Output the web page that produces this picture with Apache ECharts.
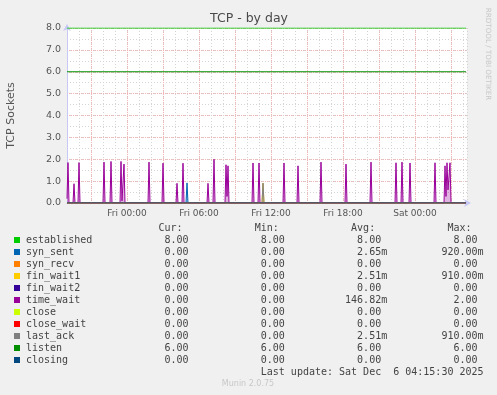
<!DOCTYPE html>
<html>
<head>
<meta charset="utf-8">
<script src="https://cdn.jsdelivr.net/npm/echarts@6/dist/echarts.min.js"></script>
<style>
html,body{margin:0;padding:0;background:#f0f0f0;}
#chart{width:497px;height:395px;}
</style>
</head>
<body>
<div id="chart"></div>
<script>
// ---- data (x = minutes relative to Fri 00:00) ----
const seriesNames = ['established','syn_sent','syn_recv','fin_wait1','fin_wait2','time_wait','close','close_wait','last_ack','listen','closing'];
const seriesColors = ['#00CC00','#0066B3','#FF8000','#FFCC00','#330099','#990099','#CCFF00','#FF0000','#808080','#008F00','#00487D'];

const xTickValues = [0, 360, 720, 1080, 1440];
const xTickLabels = ['Fri 00:00', 'Fri 06:00', 'Fri 12:00', 'Fri 18:00', 'Sat 00:00'];

const establishedData = [[-300, 8], [1695, 8]];
const listenData = [[-300, 6], [1695, 6]];
const synRecvData = [[-300, 0], [1695, 0]];
const finWait2Data = [[-300, 0], [1695, 0]];
const closeData = [[-300, 0], [1695, 0]];
const closeWaitData = [[-300, 0], [1695, 0]];
const closingData = [[-300, 0], [1695, 0]];
const synSentData = [[-300, 0], [295, 0], [300, 0.92], [305, 0], [1695, 0]];
const finWait1Data = [[-300, 0], [675, 0], [680, 0.91], [685, 0], [1695, 0]];
const lastAckData = [[-300, 0], [675, 0], [680, 0.91], [685, 0], [1695, 0]];
const timeWaitData = [
  [-300, 0.2], [-295, 1.85], [-290, 0],
  [-270, 0], [-265, 0.88], [-260, 0],
  [-245, 0], [-240, 1.85], [-235, 0],
  [-120, 0], [-115, 1.87], [-110, 0],
  [-85, 0], [-80, 1.9], [-75, 0],
  [-35, 0], [-30, 1.9], [-25, 0.1], [-20, 0.1], [-15, 1.78], [-10, 0],
  [105, 0], [110, 1.87], [115, 0],
  [175, 0], [180, 1.82], [185, 0],
  [245, 0], [250, 0.9], [255, 0],
  [275, 0], [280, 1.82], [285, 0],
  [400, 0], [405, 0.9], [410, 0],
  [430, 0], [435, 2.0], [440, 0],
  [490, 0], [495, 1.75], [500, 0.3], [505, 1.7], [510, 0],
  [625, 0], [630, 1.83], [635, 0],
  [655, 0], [660, 1.83], [665, 0],
  [780, 0], [785, 1.83], [790, 0],
  [850, 0], [855, 1.7], [860, 0],
  [965, 0], [970, 1.87], [975, 0],
  [1090, 0], [1095, 1.78], [1100, 0],
  [1215, 0], [1220, 1.87], [1225, 0],
  [1340, 0], [1345, 1.84], [1350, 0],
  [1370, 0], [1375, 1.87], [1380, 0],
  [1410, 0], [1415, 1.83], [1420, 0],
  [1535, 0], [1540, 1.84], [1545, 0],
  [1585, 0], [1590, 1.7], [1595, 0.3], [1600, 1.84], [1605, 0.6], [1610, 0.6], [1615, 1.84], [1620, 0],
  [1695, 0]
];

const curVals = ['8.00','0.00','0.00','0.00','0.00','0.00','0.00','0.00','0.00','6.00','0.00'];
const minVals = ['8.00','0.00','0.00','0.00','0.00','0.00','0.00','0.00','0.00','6.00','0.00'];
const avgVals = ['8.00','2.65m','0.00','2.51m','0.00','146.82m','0.00','0.00','2.51m','6.00','0.00'];
const maxVals = ['8.00','920.00m','0.00','910.00m','0.00','2.00','0.00','0.00','910.00m','6.00','0.00'];
const lastUpdate = 'Last update: Sat Dec  6 04:15:30 2025';

// ---- build ----
const seriesData = [establishedData, synSentData, synRecvData, finWait1Data, finWait2Data, timeWaitData,
  closeData, closeWaitData, lastAckData, listenData, closingData];
const areaSeries = {syn_sent: true, fin_wait1: true, time_wait: true, last_ack: true};

const series = seriesNames.map((n, i) => ({
  name: n,
  type: 'line',
  xAxisIndex: 0,
  yAxisIndex: 0,
  data: seriesData[i],
  showSymbol: false,
  silent: true,
  animation: false,
  lineStyle: {color: seriesColors[i], width: 1},
  itemStyle: {color: seriesColors[i]},
  areaStyle: areaSeries[n] ? {color: seriesColors[i], opacity: 0.3} : undefined
}));

const mono = '10px "DejaVu Sans Mono"';
const txtCol = '#444';
const CW = 6.02;
const colEnds = [26 + 28 * CW, 26 + 44 * CW, 26 + 60 * CW, 26 + 76 * CW];
const headers = ['Cur:', 'Min:', 'Avg:', 'Max:'];
const cols = [curVals, minVals, avgVals, maxVals];

const graphics = [];
headers.forEach((h, c) => {
  graphics.push({type: 'text', x: colEnds[c] - 2 * CW, y: 228,
    style: {text: h, font: mono, fill: txtCol, align: 'right', verticalAlign: 'middle'}});
});
seriesNames.forEach((n, i) => {
  const y = 240 + i * 12;
  graphics.push({type: 'rect', shape: {x: 14, y: y - 3, width: 6, height: 6}, style: {fill: seriesColors[i]}});
  graphics.push({type: 'text', x: 26, y: y,
    style: {text: n, font: mono, fill: txtCol, align: 'left', verticalAlign: 'middle'}});
  cols.forEach((arr, c) => {
    const s = arr[i];
    const r = colEnds[c] - (s.endsWith('m') ? 0 : CW);
    graphics.push({type: 'text', x: r, y: y,
      style: {text: s, font: mono, fill: txtCol, align: 'right', verticalAlign: 'middle'}});
  });
});
graphics.push({type: 'text', x: colEnds[3], y: 372,
  style: {text: lastUpdate, font: mono, fill: txtCol, align: 'right', verticalAlign: 'middle'}});
graphics.push({type: 'text', x: 248, y: 384,
  style: {text: 'Munin 2.0.75', font: '8px "DejaVu Sans"', fill: '#c8c8c8', align: 'center', verticalAlign: 'middle'}});
graphics.push({type: 'text', x: 488, y: 54, rotation: -Math.PI / 2,
  style: {text: 'RRDTOOL / TOBI OETIKER', font: '7.2px "DejaVu Sans"', fill: '#c8c8c8', align: 'center', verticalAlign: 'middle'}});
graphics.push({type: 'text', x: 249, y: 19,
  style: {text: 'TCP - by day', font: '12.5px "DejaVu Sans"', fill: '#4a4a4a', align: 'center', verticalAlign: 'middle'}});

const gridRed = '#f5b4b4';
const gridGray = '#d4d4d4';
const hidden = {axisLine: {show: false}, axisTick: {show: false}, axisLabel: {show: false}};

const option = {
  backgroundColor: '#f0f0f0',
  animation: false,
  grid: [
    {left: 67, top: 28, width: 400, height: 175, show: true, backgroundColor: '#ffffff', borderWidth: 0,
      containLabel: false, outerBoundsMode: 'none'},
    {left: 91, top: 28, width: 360, height: 175, show: false, containLabel: false, outerBoundsMode: 'none'}
  ],
  xAxis: [
    {
      gridIndex: 0, type: 'value', min: -300, max: 1700, interval: 60,
      axisLine: {show: true, onZero: false, symbol: ['none', 'arrow'], symbolSize: [6, 7], symbolOffset: [0, 4],
        lineStyle: {color: '#c8c8f4', width: 1}},
      axisTick: {show: false},
      axisLabel: {
        color: '#555', fontFamily: 'DejaVu Sans', fontSize: 9, margin: 6,
        formatter: (v) => { const k = xTickValues.indexOf(v); return k >= 0 ? xTickLabels[k] : ''; }
      },
      splitLine: {show: true, lineStyle: {color: gridGray, type: [1, 2], width: 1}}
    },
    Object.assign({
      gridIndex: 1, type: 'value', min: -180, max: 1620, interval: 180,
      splitLine: {show: true, lineStyle: {color: gridRed, type: [1, 1], width: 1}}
    }, hidden)
  ],
  yAxis: [
    {
      gridIndex: 0, type: 'value', min: 0, max: 8, interval: 0.5,
      name: 'TCP Sockets', nameLocation: 'middle', nameGap: 50, nameRotate: 90,
      nameTextStyle: {color: '#555', fontFamily: 'DejaVu Sans', fontSize: 11},
      axisLine: {show: true, onZero: false, symbol: ['none', 'arrow'], symbolSize: [6, 7], symbolOffset: [0, 4],
        lineStyle: {color: '#c8c8f4', width: 1}},
      axisTick: {show: false},
      axisLabel: {
        color: '#555', fontFamily: 'DejaVu Sans', fontSize: 9.5, margin: 6,
        formatter: (v) => Math.abs(v - Math.round(v)) < 1e-9 ? v.toFixed(1) : ''
      },
      splitLine: {show: true, lineStyle: {color: gridGray, type: [1, 2], width: 1}}
    },
    Object.assign({
      gridIndex: 0, type: 'value', min: 0, max: 8, interval: 1, position: 'left', offset: 0,
      splitLine: {show: true, lineStyle: {color: gridRed, type: [1, 1], width: 1}}
    }, hidden),
    Object.assign({
      gridIndex: 1, type: 'value', min: 0, max: 8, splitLine: {show: false}
    }, hidden)
  ],
  series: series,
  graphic: graphics
};

const chart = echarts.init(document.getElementById('chart'), null, {renderer: 'canvas'});
chart.setOption(option);
</script>
</body>
</html>
